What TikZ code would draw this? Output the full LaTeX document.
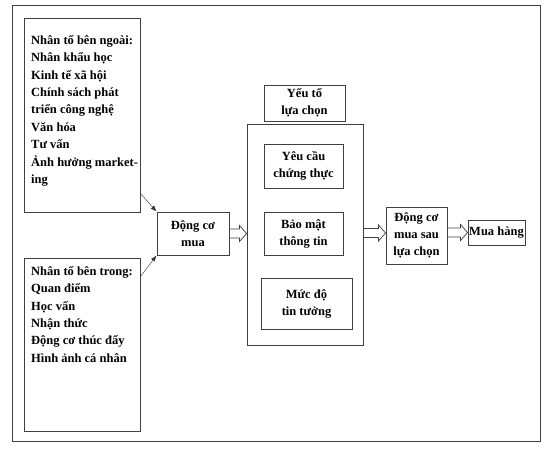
\documentclass[tikz,border=0pt]{standalone}
\usepackage{fontspec}
\setmainfont{Liberation Serif}
\usetikzlibrary{arrows.meta,calc}
% open block arrow between two points on one level
\newcommand\blockarrow[2]{%
  \draw[fat] ($(#1)+(0,-4.5)$) -- ($(#2)+(-7,-4.5)$) -- ($(#2)+(-7,-8)$) -- (#2)
    -- ($(#2)+(-7,8)$) -- ($(#2)+(-7,4.5)$) -- ($(#1)+(0,4.5)$);}

\begin{document}
\begin{tikzpicture}[x=1pt,y=-1pt,
  box/.style = {draw=black!75, line width=0.9pt, inner sep=0pt, align=center,
                font=\bfseries\fontsize{12.5}{17}\selectfont},
  list/.style = {anchor=north west, inner sep=0pt, align=left,
                 font=\bfseries\fontsize{12.5}{17.4}\selectfont},
  fat/.style = {draw=black!75, line width=0.7pt, line join=miter}]
\useasboundingbox (0,0) rectangle (550,452);
\node[box, minimum width=528, minimum height=436] (frame) at (276,223) {};
% factor boxes on the left
\node[box, minimum width=116, minimum height=194] (ext) at (82,115) {};
\node[box, minimum width=116, minimum height=173] (int) at (82,344.5) {};
\node[list] (extlist) at (31,35) {Nhân tố bên ngoài:\\Nhân khẩu học\\Kinh tế xã hội\\Chính sách phát\\triển công nghệ\\Văn hóa\\Tư vấn\\Ảnh hưởng market-\\ing};
\node[list] (intlist) at (31,266) {Nhân tố bên trong:\\Quan điểm\\Học vấn\\Nhận thức\\Động cơ thúc đẩy\\Hình ảnh cá nhân};
% middle
\node[box, minimum width=72, minimum height=43] (mua) at (193,233.5) {Động cơ\\mua};
\node[box, minimum width=81, minimum height=36] (title) at (304.5,103) {Yếu tố\\lựa chọn};
\node[box, minimum width=116, minimum height=221] (big) at (305,234.5) {};
\node[box, minimum width=79, minimum height=44] (auth) at (303.5,166) {Yêu cầu\\chứng thực};
\node[box, minimum width=79, minimum height=43] (secure) at (303.5,233.5) {Bảo mật\\thông tin};
\node[box, minimum width=91, minimum height=51] (trust) at (306.5,303.5) {Mức độ\\tin tưởng};
% right
\node[box, minimum width=61, minimum height=57] (after) at (416.5,235.5) {Động cơ\\mua sau\\lựa chọn};
\node[box, minimum width=57, minimum height=25] (buy) at (496.5,232.5) {Mua hàng};
\draw[-{Latex[length=6pt,width=4.5pt]}, black!80] ($(ext.south east)+(0,-19)$) -- (mua.north west);
\draw[-{Latex[length=6pt,width=4.5pt]}, black!80] ($(int.north east)+(0,19)$) -- (mua.south west);
\blockarrow{mua.east}{mua.east -| big.west}
\blockarrow{big.east |- 0,233}{after.west |- 0,233}
\blockarrow{after.east |- buy.west}{buy.west}
\end{tikzpicture}
\end{document}
